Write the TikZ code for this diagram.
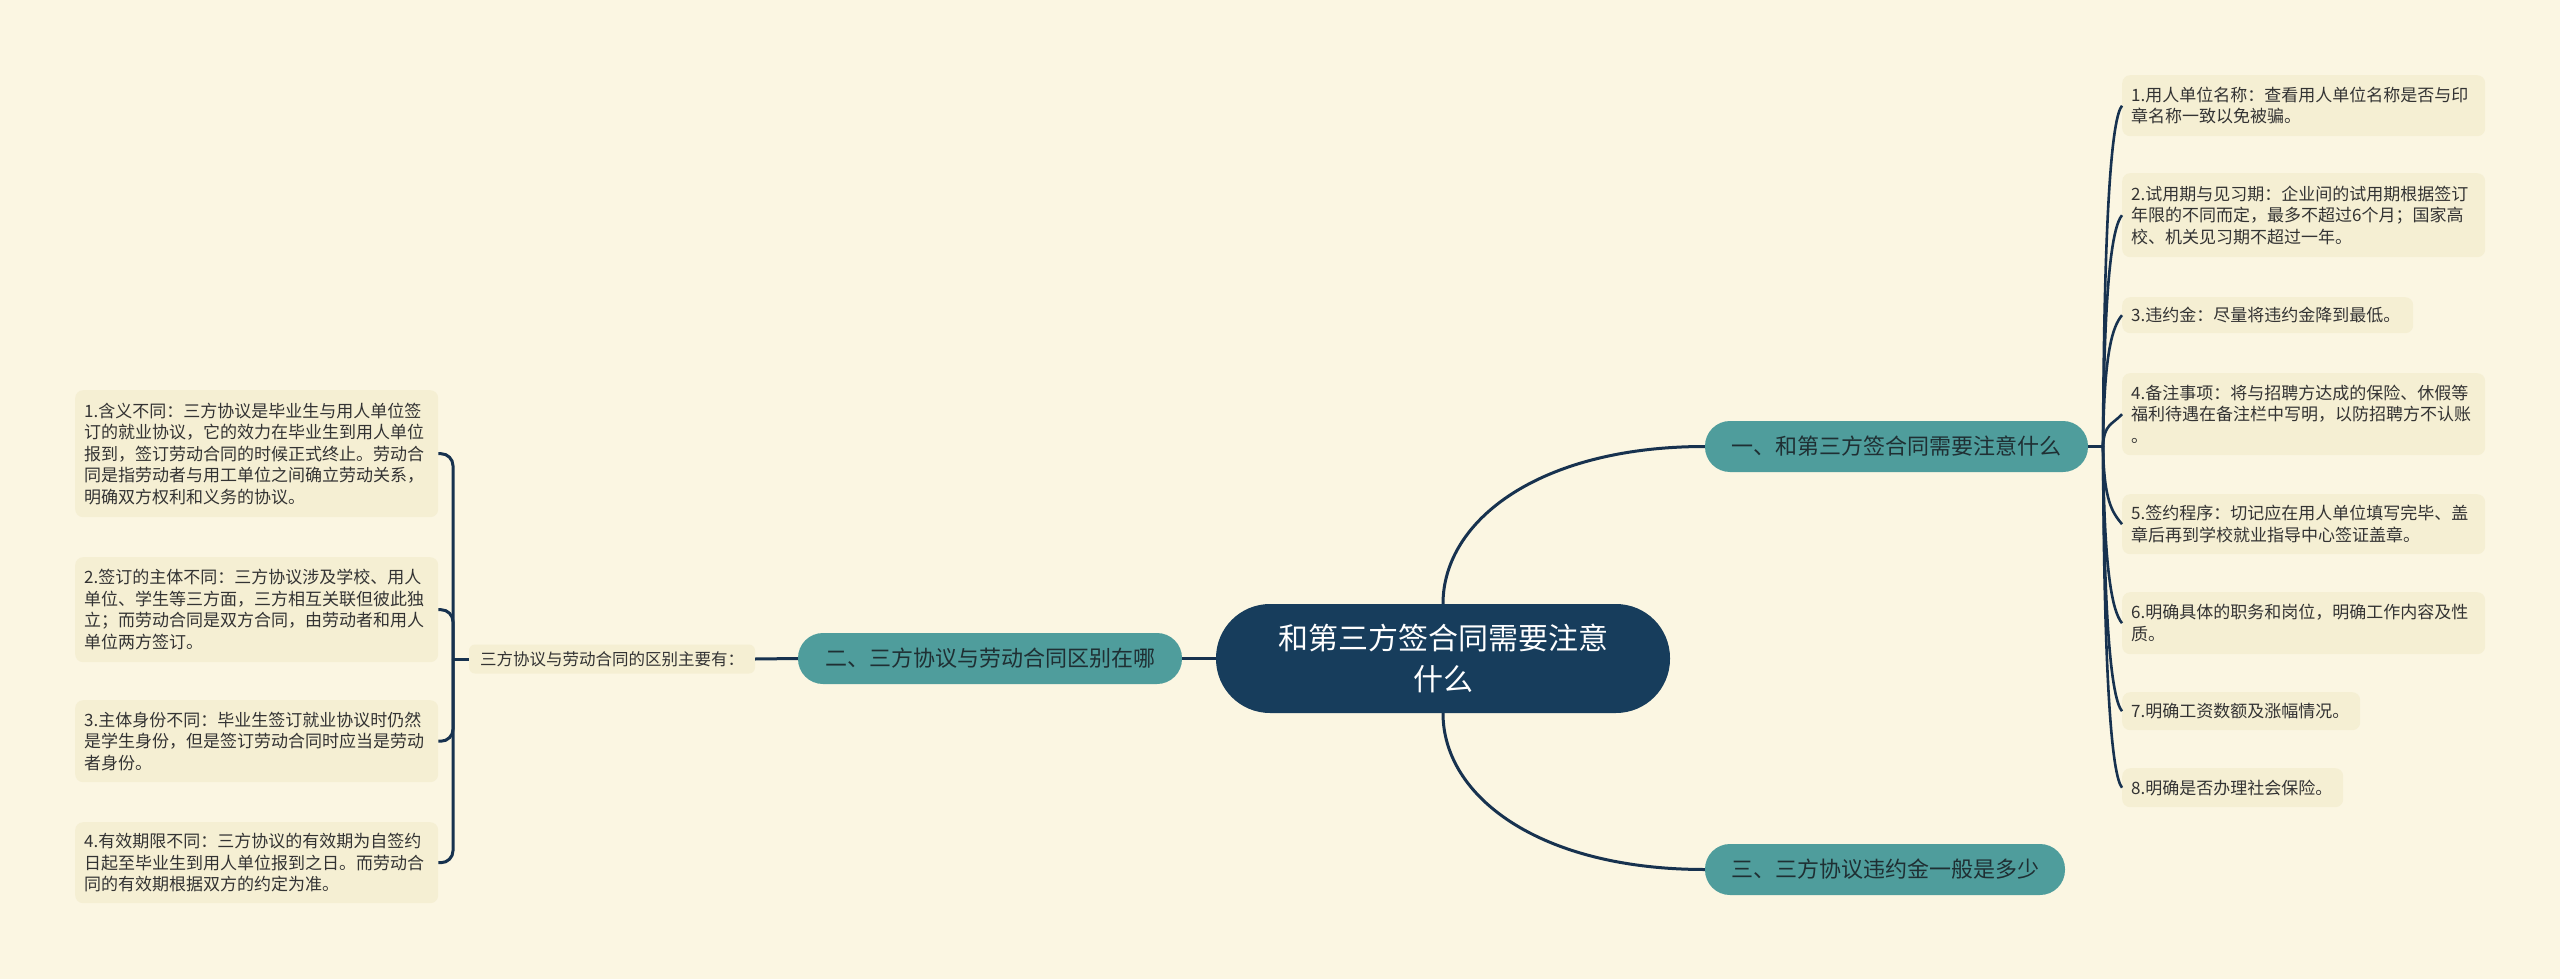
\documentclass[tikz,border=0pt]{standalone}
\usepackage{fontspec}
\setmainfont{Noto Sans CJK SC}
\definecolor{bgc}{HTML}{FBF6E2}
\definecolor{leaffill}{HTML}{F5EFD3}
\definecolor{brteal}{HTML}{4F9D9C}
\definecolor{navyc}{HTML}{173D5C}
\definecolor{linec}{HTML}{17324F}
\definecolor{txtc}{HTML}{333333}
\definecolor{btxt}{HTML}{1F2F33}
\begin{document}
\begin{tikzpicture}[x=1pt,y=-1pt,
  leaf/.style={fill=leaffill, rounded corners=8pt, anchor=north west, inner xsep=9pt, inner ysep=3pt,
    text width=345pt, align=left, font=\fontsize{17}{21.5}\selectfont, text=txtc},
  branch/.style={fill=brteal, rounded corners=25pt, minimum height=51pt, inner sep=0pt,
    font=\fontsize{22}{26}\selectfont, text=btxt},
  conn/.style={draw=linec, line width=3pt},
  rconn/.style={draw=linec, line width=2.6pt}]
\fill[bgc] (0,0) rectangle (2560,979);
\useasboundingbox (0,0) rectangle (2560,979);

% central
\node[fill=navyc, rounded corners=54pt, minimum width=454pt, minimum height=109pt, inner sep=0pt,
  text=white, align=center, font=\fontsize{30}{41}\selectfont] (c) at (1443,658.5)
  {和第三方签合同需要注意\\什么};

% branches
\node[branch, minimum width=383pt] (b1) at (1896.5,446.5) {一、和第三方签合同需要注意什么};
\node[branch, minimum width=384pt] (b2) at (990,658.5) {二、三方协议与劳动合同区别在哪};
\node[branch, minimum width=360pt] (b3) at (1885,869.5) {三、三方协议违约金一般是多少};

% sub node
\node[fill=leaffill, rounded corners=6pt, minimum width=286pt, minimum height=29pt, inner sep=0pt,
  font=\fontsize{16.5}{20}\selectfont, text=txtc] (s) at (612,659) {三方协议与劳动合同的区别主要有：};

% left leaves
\node[leaf, minimum height=127pt] (l1) at (75,390) {1.含义不同：三方协议是毕业生与用人单位签\\订的就业协议，它的效力在毕业生到用人单位\\报到，签订劳动合同的时候正式终止。劳动合\\同是指劳动者与用工单位之间确立劳动关系，\\明确双方权利和义务的协议。};
\node[leaf, minimum height=105pt] (l2) at (75,557) {2.签订的主体不同：三方协议涉及学校、用人\\单位、学生等三方面，三方相互关联但彼此独\\立；而劳动合同是双方合同，由劳动者和用人\\单位两方签订。};
\node[leaf, minimum height=82pt] (l3) at (75,700) {3.主体身份不同：毕业生签订就业协议时仍然\\是学生身份，但是签订劳动合同时应当是劳动\\者身份。};
\node[leaf, minimum height=81pt] (l4) at (75,822) {4.有效期限不同：三方协议的有效期为自签约\\日起至毕业生到用人单位报到之日。而劳动合\\同的有效期根据双方的约定为准。};

% right leaves
\node[leaf, minimum height=61pt] (r1) at (2122,75) {1.用人单位名称：查看用人单位名称是否与印\\章名称一致以免被骗。};
\node[leaf, minimum height=84pt] (r2) at (2122,173) {2.试用期与见习期：企业间的试用期根据签订\\年限的不同而定，最多不超过6个月；国家高\\校、机关见习期不超过一年。};
\node[leaf, minimum height=36pt, text width=273pt] (r3) at (2122,297) {3.违约金：尽量将违约金降到最低。};
\node[leaf, minimum height=82pt] (r4) at (2122,373) {4.备注事项：将与招聘方达成的保险、休假等\\福利待遇在备注栏中写明，以防招聘方不认账\\。};
\node[leaf, minimum height=60pt] (r5) at (2122,494) {5.签约程序：切记应在用人单位填写完毕、盖\\章后再到学校就业指导中心签证盖章。};
\node[leaf, minimum height=62pt] (r6) at (2122,592) {6.明确具体的职务和岗位，明确工作内容及性\\质。};
\node[leaf, minimum height=38pt, text width=220pt] (r7) at (2122,692) {7.明确工资数额及涨幅情况。};
\node[leaf, minimum height=39pt, text width=203pt] (r8) at (2122,768) {8.明确是否办理社会保险。};

% connectors centre
\draw[conn] (c.north) .. controls (1443,520) and (1540,446.5) .. (b1.west);
\draw[conn] (c.south) .. controls (1443,797) and (1540,869.5) .. (b3.west);
\draw[conn] (c.west) -- (b2.east);
\draw[conn] (b2.west) -- (s.east);

% left bracket
\coordinate (lsp) at (453,659);
\draw[conn] (s.west) -- (lsp);
\draw[conn, rounded corners=12pt] (lsp) -- (lsp |- l1.east) -- (l1.east);
\draw[conn, rounded corners=12pt] (lsp) -- (lsp |- l2.east) -- (l2.east);
\draw[conn, rounded corners=12pt] (lsp) -- (lsp |- l3.east) -- (l3.east);
\draw[conn, rounded corners=12pt] (lsp) -- (lsp |- l4.east) -- (l4.east);

% right spine
\coordinate (rsp) at (2103,446.5);
\draw[conn] (b1.east) -- (rsp);
\draw[rconn] (rsp) .. controls (2104,208) and (2112,117.5) .. (r1.west);
\draw[rconn] (rsp) .. controls (2104,284.5) and (2112,227) .. (r2.west);
\draw[rconn] (rsp) .. controls (2104,354.5) and (2112,327) .. (r3.west);
\draw[rconn] (rsp) .. controls (2104,423.8) and (2112,425) .. (r4.west);
\draw[rconn] (rsp) .. controls (2104,501) and (2112,512) .. (r5.west);
\draw[rconn] (rsp) .. controls (2104,570) and (2112,611) .. (r6.west);
\draw[rconn] (rsp) .. controls (2104,631.6) and (2112,699) .. (r7.west);
\draw[rconn] (rsp) .. controls (2104,685) and (2112,775.5) .. (r8.west);
\end{tikzpicture}
\end{document}
